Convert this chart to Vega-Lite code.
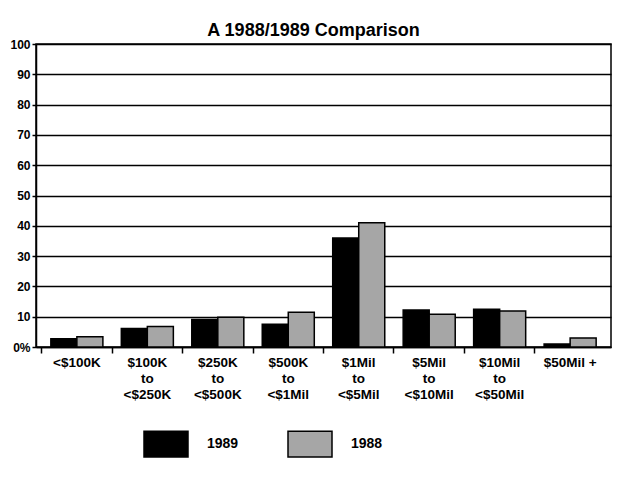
{
  "$schema": "https://vega.github.io/schema/vega-lite/v6.json",
  "autosize": {"type": "none"},
  "width": 575,
  "height": 303,
  "padding": {"left": 36, "top": 44, "right": 13, "bottom": 136},
  "background": "white",
  "title": {
    "text": "A 1988/1989 Comparison",
    "font": "Liberation Sans",
    "fontSize": 18,
    "fontWeight": "bold",
    "color": "black",
    "anchor": "middle",
    "offset": -2,
    "dx": -10
  },
  "config": {
    "view": {"stroke": "black", "strokeWidth": 1.5},
    "axis": {
      "labelFont": "Liberation Sans",
      "labelFontWeight": "bold",
      "labelFontSize": 12,
      "labelColor": "black",
      "domainColor": "black",
      "domainWidth": 1.5,
      "tickColor": "black",
      "tickWidth": 1.5,
      "gridColor": "black",
      "gridWidth": 1.5,
      "gridOpacity": 1
    },
    "legend": {
      "labelFont": "Liberation Sans",
      "labelFontWeight": "bold",
      "labelFontSize": 14,
      "labelColor": "black"
    }
  },
  "data": {
    "values": [
      {"range": "<$100K", "year": "1989", "pct": 2.7},
      {"range": "<$100K", "year": "1988", "pct": 3.4},
      {"range": "$100K to <$250K", "year": "1989", "pct": 6.1},
      {"range": "$100K to <$250K", "year": "1988", "pct": 6.8},
      {"range": "$250K to <$500K", "year": "1989", "pct": 9.1},
      {"range": "$250K to <$500K", "year": "1988", "pct": 9.8},
      {"range": "$500K to <$1Mil", "year": "1989", "pct": 7.5},
      {"range": "$500K to <$1Mil", "year": "1988", "pct": 11.5},
      {"range": "$1Mil to <$5Mil", "year": "1989", "pct": 36},
      {"range": "$1Mil to <$5Mil", "year": "1988", "pct": 41},
      {"range": "$5Mil to <$10Mil", "year": "1989", "pct": 12.2},
      {"range": "$5Mil to <$10Mil", "year": "1988", "pct": 10.8},
      {"range": "$10Mil to <$50Mil", "year": "1989", "pct": 12.5},
      {"range": "$10Mil to <$50Mil", "year": "1988", "pct": 11.9},
      {"range": "$50Mil +", "year": "1989", "pct": 1},
      {"range": "$50Mil +", "year": "1988", "pct": 3}
    ]
  },
  "mark": {"type": "bar", "stroke": "black", "strokeWidth": 1.5},
  "encoding": {
    "x": {
      "field": "range",
      "type": "nominal",
      "sort": null,
      "title": null,
      "scale": {"paddingInner": 0, "paddingOuter": 0.08},
      "axis": {
        "labelAngle": 0,
        "bandPosition": 0,
        "tickSize": 6,
        "labelPadding": 2,
        "labelFontSize": 13.5,
        "labelLineHeight": 16,
        "labelBaseline": "top",
        "labelExpr": "split(replace(datum.label, ' to ', '|to|'), '|')"
      }
    },
    "xOffset": {
      "field": "year",
      "type": "nominal",
      "sort": ["1989", "1988"],
      "scale": {"paddingInner": 0, "paddingOuter": 0.354}
    },
    "y": {
      "field": "pct",
      "type": "quantitative",
      "title": null,
      "scale": {"domain": [0, 100], "nice": false},
      "axis": {
        "values": [0, 10, 20, 30, 40, 50, 60, 70, 80, 90, 100],
        "grid": true,
        "tickSize": 4,
        "labelPadding": 2,
        "labelExpr": "datum.value == 0 ? '0%' : datum.label"
      }
    },
    "fill": {
      "field": "year",
      "type": "nominal",
      "scale": {"domain": ["1989", "1988"], "range": ["black", "#a6a6a6"]},
      "legend": {
        "title": null,
        "orient": "none",
        "direction": "horizontal",
        "legendX": 107,
        "legendY": 377,
        "symbolType": "M-1,-0.58H1V0.58H-1Z",
        "symbolSize": 1936,
        "symbolStrokeColor": "black",
        "symbolStrokeWidth": 1.5,
        "labelOffset": 18,
        "columnPadding": 46
      }
    }
  }
}
